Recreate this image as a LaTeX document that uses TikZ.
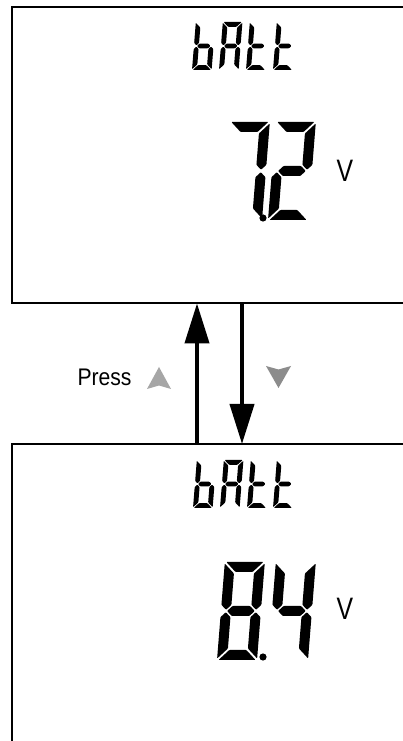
\documentclass[tikz,border=0pt]{standalone}
\usepackage{fontspec}
\setmainfont{Liberation Sans}
\usetikzlibrary{arrows.meta}
\def\sgA{(1.5,98)--(38.5,98)--(28.5,88)--(11.5,88)--cycle}
\def\sgB{(40,96.5)--(30,86.5)--(30,55.2)--(35,50.2)--(40,55.2)--cycle}
\def\sgC{(40,1.5)--(30,11.5)--(30,42.8)--(35,47.8)--(40,42.8)--cycle}
\def\sgD{(1.5,0)--(38.5,0)--(28.5,10)--(11.5,10)--cycle}
\def\sgE{(0,1.5)--(10,11.5)--(10,42.8)--(5,47.8)--(0,42.8)--cycle}
\def\sgF{(0,96.5)--(10,86.5)--(10,55.2)--(5,50.2)--(0,55.2)--cycle}
\def\sgG{(6.2,49)--(11.2,54)--(28.8,54)--(33.8,49)--(28.8,44)--(11.2,44)--cycle}
\newcommand\lcdchar[4]{%
  \begin{scope}[shift={(#1,#2)},xslant=0.08,scale=#3]
    \foreach \s in {#4}{\fill[segfill] \s;}
  \end{scope}}
\tikzset{
  segfill/.style={black,rounded corners=0.8pt},
  boxline/.style={line width=2pt,black},
  arr/.style={line width=4pt,-{Triangle[length=40pt,width=24pt]}},
  keytri/.style={draw=none},
}
\begin{document}
\begin{tikzpicture}[x=1pt,y=1pt]
\useasboundingbox (0,0) rectangle (403,741);
\fill[white] (0,0) rectangle (403,741);
% boxes
\node[inner sep=0,minimum width=391pt,minimum height=296pt,anchor=north west] (topbox) at (12,734) {};
\node[inner sep=0,minimum width=391pt,minimum height=297pt,anchor=north west] (botbox) at (12,297) {};
\draw[boxline] (topbox.north east) -- (topbox.north west) -- (topbox.south west) -- (topbox.south east);
\draw[boxline] (botbox.north east) -- (botbox.north west) -- (botbox.south west);
% top display: bAtt
\lcdchar{192}{671}{0.49}{\sgF,\sgE,\sgG,\sgD,\sgC}
\lcdchar{219}{671}{0.49}{\sgA,\sgB,\sgC,\sgE,\sgF,\sgG}
\lcdchar{246}{671}{0.49}{\sgF,\sgE,\sgG,\sgD}
\lcdchar{273}{671}{0.49}{\sgF,\sgE,\sgG,\sgD}
% 7.2
\lcdchar{222}{521}{1}{\sgA,\sgB,\sgC}
\lcdchar{268}{521}{1}{\sgA,\sgB,\sgG,\sgE,\sgD}
\fill (263,523) circle (3.6);
\node[anchor=base,inner sep=0] (v1) at (345,559) {\fontsize{31}{31}\selectfont\scalebox{0.8}[1]{V}};
% bottom display: bAtt
\lcdchar{193}{233}{0.49}{\sgF,\sgE,\sgG,\sgD,\sgC}
\lcdchar{220}{233}{0.49}{\sgA,\sgB,\sgC,\sgE,\sgF,\sgG}
\lcdchar{247}{233}{0.49}{\sgF,\sgE,\sgG,\sgD}
\lcdchar{273}{233}{0.49}{\sgF,\sgE,\sgG,\sgD}
% 8.4
\lcdchar{217}{81}{1}{\sgA,\sgB,\sgC,\sgD,\sgE,\sgF,\sgG}
\lcdchar{268}{81}{1}{\sgF,\sgG,\sgB,\sgC}
\fill (263,84) circle (3.6);
\node[anchor=base,inner sep=0] (v2) at (345,121) {\fontsize{31}{31}\selectfont\scalebox{0.8}[1]{V}};
% arrows
\coordinate (upx) at (197,0);
\coordinate (dnx) at (242,0);
\draw[arr] (botbox.north west -| upx) -- (topbox.south west -| upx);
\draw[arr] (topbox.south west -| dnx) -- (botbox.north west -| dnx);
% label
\node[anchor=base,inner sep=0] (press) at (104.5,355) {\fontsize{24}{24}\selectfont\scalebox{0.88}[1]{Press}};
\fill[keytri,fill={rgb,255:red,166;green,166;blue,166}] (159,374) -- (171,352) -- (159,355.5) -- (147,352) -- cycle;
\fill[keytri,fill={rgb,255:red,140;green,140;blue,140}] (278.5,353) -- (266,375) -- (278.5,371.5) -- (291,375) -- cycle;
\end{tikzpicture}
\end{document}
